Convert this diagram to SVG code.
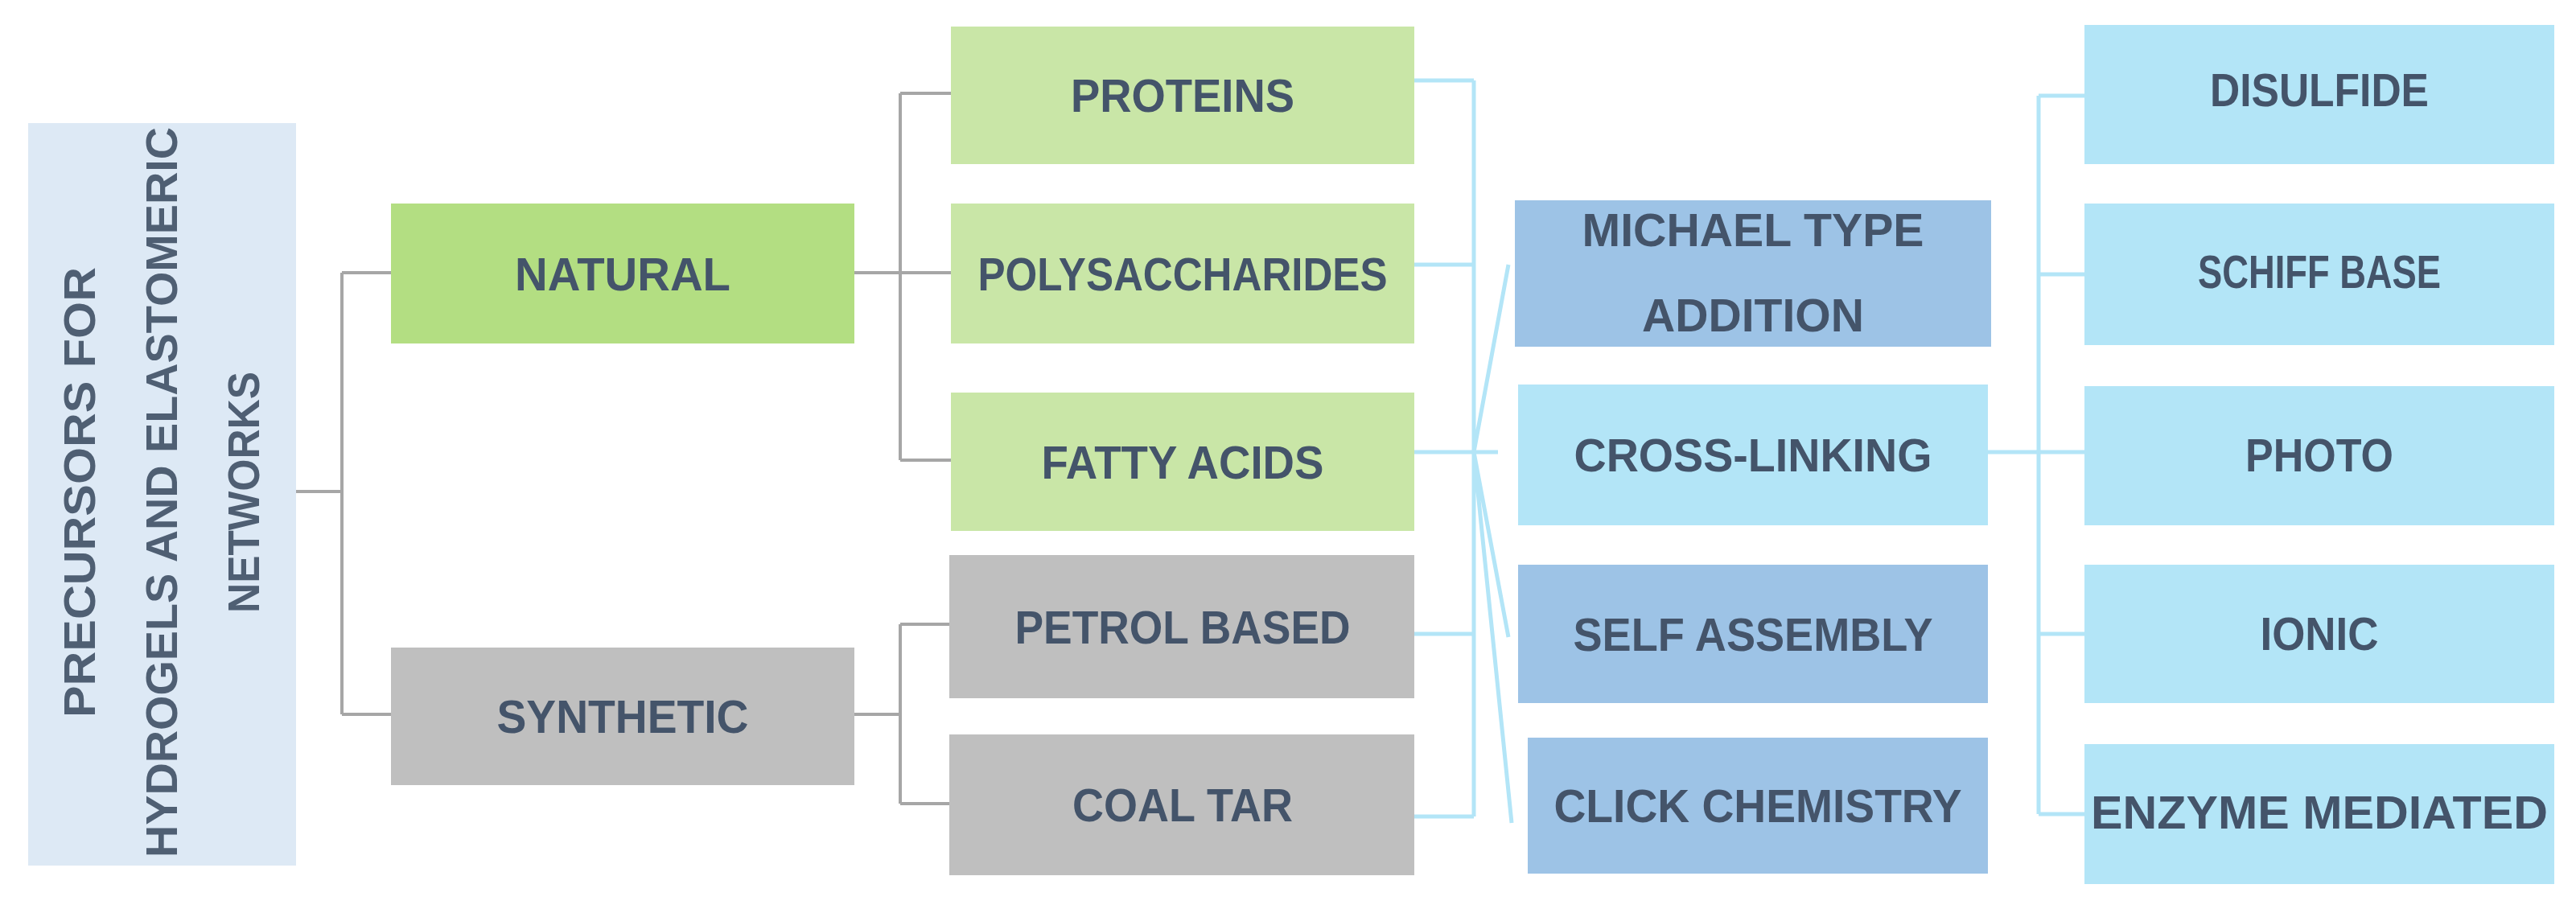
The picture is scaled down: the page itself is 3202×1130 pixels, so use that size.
<svg xmlns="http://www.w3.org/2000/svg" width="3202" height="1130" viewBox="0 0 3202 1130">
<style>
text{font-family:"Liberation Sans",Arial,sans-serif;font-weight:bold;fill:#44546a;font-size:58px;text-anchor:middle}
.root text{font-size:56px;fill:#4f5f73}
.g{fill:#c9e6a7}.n{fill:#b3de82}.s{fill:#bfbfbf}.d{fill:#9dc3e6}.l{fill:#b3e5f7}
.gc{stroke:#a6a6a6;stroke-width:4;fill:none}.bc{stroke:#b3e5f7;stroke-width:5;fill:none}
</style>
<g id="connectors">
<path class="gc" d="M368 611H425M425 339V888M425 339H486M425 888H486M1062 339H1182M1119 116V572M1119 116H1182M1119 572H1182M1062 888H1119M1119 776V999M1119 776H1182M1119 999H1182"/>
<path class="bc" d="M1758 100H1832M1758 329H1832M1758 562H1832M1758 788H1832M1758 1015H1832M1832 100V1015M1832 562L1875 329M1832 562H1862M1832 562L1875 792M1832 562L1879 1023M2471 562H2534M2534 119V1012M2534 119H2591M2534 341H2591M2534 562H2591M2534 788H2591M2534 1012H2591"/>
</g>
<g id="root" class="root"><rect x="35" y="153" width="333" height="923" fill="#dde9f5"/>
<g transform="translate(200 612) rotate(-90)"><text x="0" y="-82" textLength="560" lengthAdjust="spacingAndGlyphs">PRECURSORS FOR</text><text x="0" y="20" textLength="908" lengthAdjust="spacingAndGlyphs">HYDROGELS AND ELASTOMERIC</text><text x="0" y="122" textLength="300" lengthAdjust="spacingAndGlyphs">NETWORKS</text></g></g>
<g id="natural"><rect class="n" x="486" y="253" width="576" height="174"/><text x="774" y="361" textLength="268" lengthAdjust="spacingAndGlyphs">NATURAL</text></g>
<g id="synthetic"><rect class="s" x="486" y="805" width="576" height="171"/><text x="774" y="911" textLength="313" lengthAdjust="spacingAndGlyphs">SYNTHETIC</text></g>
<g id="proteins"><rect class="g" x="1182" y="33" width="576" height="171"/><text x="1470" y="139" textLength="278" lengthAdjust="spacingAndGlyphs">PROTEINS</text></g>
<g id="polysaccharides"><rect class="g" x="1182" y="253" width="576" height="174"/><text x="1470" y="361" textLength="509" lengthAdjust="spacingAndGlyphs">POLYSACCHARIDES</text></g>
<g id="fatty"><rect class="g" x="1182" y="488" width="576" height="172"/><text x="1470" y="595" textLength="351" lengthAdjust="spacingAndGlyphs">FATTY ACIDS</text></g>
<g id="petrol"><rect class="s" x="1180" y="690" width="578" height="178"/><text x="1470" y="800" textLength="417" lengthAdjust="spacingAndGlyphs">PETROL BASED</text></g>
<g id="coal"><rect class="s" x="1180" y="913" width="578" height="175"/><text x="1470" y="1021" textLength="274" lengthAdjust="spacingAndGlyphs">COAL TAR</text></g>
<g id="michael"><rect class="d" x="1883" y="249" width="592" height="182"/><text x="2179" y="306" textLength="425" lengthAdjust="spacingAndGlyphs">MICHAEL TYPE</text><text x="2179" y="412" textLength="276" lengthAdjust="spacingAndGlyphs">ADDITION</text></g>
<g id="crosslinking"><rect class="l" x="1887" y="478" width="584" height="175"/><text x="2179" y="586" textLength="445" lengthAdjust="spacingAndGlyphs">CROSS-LINKING</text></g>
<g id="selfassembly"><rect class="d" x="1887" y="702" width="584" height="172"/><text x="2179" y="809" textLength="447" lengthAdjust="spacingAndGlyphs">SELF ASSEMBLY</text></g>
<g id="click"><rect class="d" x="1899" y="917" width="572" height="169"/><text x="2185" y="1022" textLength="507" lengthAdjust="spacingAndGlyphs">CLICK CHEMISTRY</text></g>
<g id="disulfide"><rect class="l" x="2591" y="31" width="584" height="173"/><text x="2883" y="132" textLength="272" lengthAdjust="spacingAndGlyphs">DISULFIDE</text></g>
<g id="schiff"><rect class="l" x="2591" y="253" width="584" height="176"/><text x="2883" y="358" textLength="302" lengthAdjust="spacingAndGlyphs">SCHIFF BASE</text></g>
<g id="photo"><rect class="l" x="2591" y="480" width="584" height="173"/><text x="2883" y="586" textLength="184" lengthAdjust="spacingAndGlyphs">PHOTO</text></g>
<g id="ionic"><rect class="l" x="2591" y="702" width="584" height="172"/><text x="2883" y="808" textLength="147" lengthAdjust="spacingAndGlyphs">IONIC</text></g>
<g id="enzyme"><rect class="l" x="2591" y="925" width="584" height="174"/><text x="2883" y="1030" textLength="568" lengthAdjust="spacingAndGlyphs">ENZYME MEDIATED</text></g>
</svg>
